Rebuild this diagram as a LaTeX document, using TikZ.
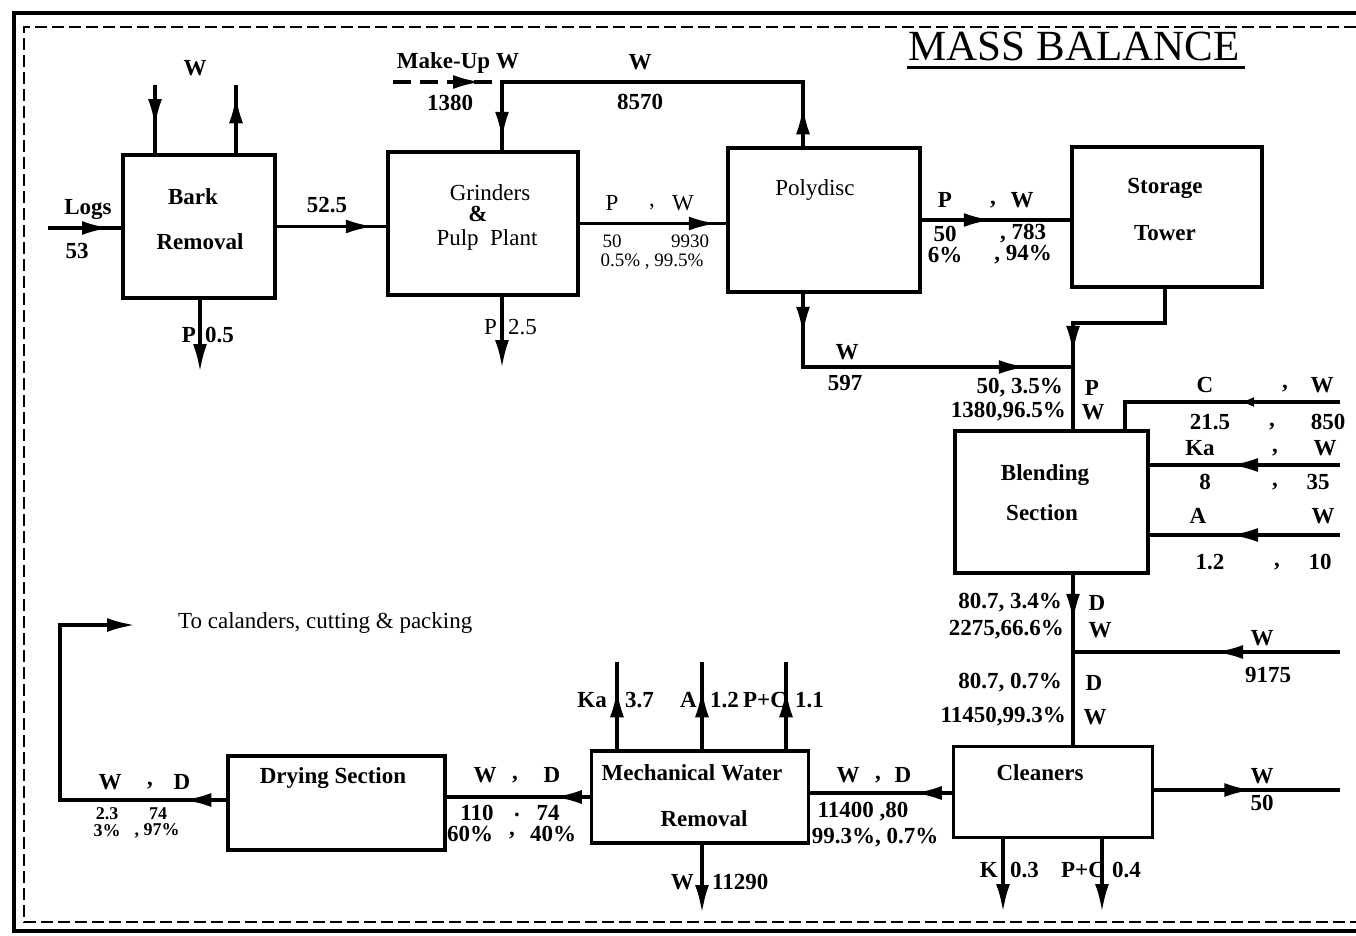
\documentclass[tikz,border=0pt]{standalone}
\usepackage{fontspec}
\setmainfont{Liberation Serif}
\usetikzlibrary{arrows.meta,decorations.markings}
\tikzset{
  hd/.tip={Latex[length=28pt,width=14pt]},
  sm/.tip={Latex[length=14pt,width=10pt]},
  lb/.style={font=\fontsize{23}{25}\selectfont\bfseries, inner sep=0pt},
  lr/.style={font=\fontsize{23}{25}\selectfont, inner sep=0pt},
  lq/.style={font=\fontsize{19}{20}\selectfont, inner sep=0pt},
  ls/.style={font=\fontsize{18}{19}\selectfont\bfseries, inner sep=0pt},
  proc/.style={draw, line width=3.5pt, inner sep=0pt},
  flow/.style={line width=3.5pt},
  fa/.style={postaction={decorate,decoration={markings,mark=at position #1 with {\arrow{hd}}}}},
  sa/.style={postaction={decorate,decoration={markings,mark=at position #1 with {\arrow{sm}}}}},
}
\begin{document}
\begin{tikzpicture}[x=1pt,y=-1pt]
\useasboundingbox (0,0) rectangle (1356,935);
% frame
\draw[line width=4pt] (1356,13) -- (14,13) -- (14,931) -- (1356,931);
\draw[line width=1.5pt, dash pattern=on 12pt off 5pt] (1356,27) -- (24,27) -- (24,922) -- (1356,922);
% title
\node[font=\fontsize{43}{46}\selectfont, inner sep=0pt] (title) at (1074,46) {MASS BALANCE};
\draw[line width=3pt] (907,67) -- (1245,67);

% process boxes
\node[proc, minimum width=152pt, minimum height=143pt] (bark) at (199,226.5) {};
\node[proc, minimum width=190pt, minimum height=143pt] (grind) at (483,223.5) {};
\node[proc, minimum width=192pt, minimum height=144pt] (poly) at (824,220) {};
\node[proc, minimum width=190pt, minimum height=140pt] (stor) at (1167,217) {};
\node[proc, minimum width=193pt, minimum height=142pt] (blend) at (1051.5,502) {};
\node[proc, minimum width=199pt, minimum height=91pt] (clean) at (1053,792) {};
\node[proc, minimum width=217pt, minimum height=92pt] (mwr) at (700,797) {};
\node[proc, minimum width=217pt, minimum height=94pt] (dry) at (336.5,803) {};

% box texts
\node[lb] (t1) at (193,197) {Bark};
\node[lb] (t2) at (200,242) {Removal};
\node[lr] (t3) at (490,193) {Grinders};
\node[lb] (t4) at (478,214) {\&};
\node[lr] (t5) at (487,240) {Pulp\ \ Plant};
\node[lr] (t6) at (815,190) {Polydisc};
\node[lb] (t7) at (1165,188) {Storage};
\node[lb] (t8) at (1165,233) {Tower};
\node[lb] (t9) at (1045,475) {Blending};
\node[lb] (t10) at (1042,513) {Section};
\node[lb] (t11) at (1040,773) {Cleaners};
\node[lb] (t12) at (692,773) {Mechanical Water};
\node[lb] (t13) at (704,819) {Removal};
\node[lb] (t14) at (333,778) {Drying Section};

% free ends
\coordinate (bwin) at (155,85);
\coordinate (bwout) at (236,85);
\coordinate (logs) at (48,228);
\coordinate (bp) at (200,372);
\coordinate (mu) at (393,82);
\coordinate (j1) at (502,82);
\coordinate (j2) at (803,82);
\coordinate (gp) at (502,368);
\coordinate (c597a) at (803,367);
\coordinate (c597b) at (1073,367);
\coordinate (st1) at (1165,323);
\coordinate (st2) at (1073,323);
\coordinate (cC1) at (1125,402);
\coordinate (cC2) at (1340,402);
\coordinate (cKa) at (1340,465);
\coordinate (cA) at (1340,535);
\coordinate (j9175) at (1073,652);
\coordinate (c9175) at (1340,652);
\coordinate (c50) at (1340,790);
\coordinate (cK) at (1003,912);
\coordinate (cPC) at (1102,912);
\coordinate (mKa) at (617,662);
\coordinate (mA) at (702,662);
\coordinate (mPC) at (786,662);
\coordinate (mW) at (702,913);
\coordinate (mwl) at (0,793);
\coordinate (d1) at (60,800);
\coordinate (d2) at (60,625);
\coordinate (d3) at (135,625);

% connectors
\draw[flow, fa=42pt] (bwin) -- (bwin |- bark.north);
\draw[flow, fa=58pt] (bwout |- bark.north) -- (bwout);
\draw[flow, fa=62pt] (logs) -- (logs -| bark.west);
\draw[flow, fa=97pt] (bark.east) -- (bark.east -| grind.west);
\draw[flow, -{hd}] (bp |- bark.south) -- (bp);
\draw[flow, dash pattern=on 18pt off 9pt, fa=88pt] (mu) -- (j1);
\draw[flow, fa=40pt, fa=423pt] (j2 |- poly.north) -- (j2) -- (j1) -- (j1 |- grind.north);
\draw[flow, fa=137pt] (grind.east) -- (grind.east -| poly.west);
\draw[flow, -{hd}] (gp |- grind.south) -- (gp);
\draw[flow, fa=70pt] (poly.east) -- (poly.east -| stor.west);
\draw[flow, fa=41pt, fa=297pt] (c597a |- poly.south) -- (c597a) -- (c597b);
\draw[flow, fa=157pt] (st1 |- stor.south) -- (st1) -- (st2) -- (st2 |- blend.north);
\draw[flow, sa=100pt] (cC2) -- (cC1) -- (cC1 |- blend.north);
\draw[flow, fa=110pt] (cKa) -- (cKa -| blend.east);
\draw[flow, fa=110pt] (cA) -- (cA -| blend.east);
\draw[flow, fa=47pt] (j9175 |- blend.south) -- (j9175 |- clean.north);
\draw[flow, fa=125pt] (c9175) -- (j9175);
\draw[flow, fa=98pt] (clean.east |- c50) -- (c50);
\draw[flow, -{hd}] (cK |- clean.south) -- (cK);
\draw[flow, -{hd}] (cPC |- clean.south) -- (cPC);
\draw[flow, fa=38pt] (clean.west |- mwl) -- (mwr.east |- mwl);
\draw[flow, fa=60pt] (mKa |- mwr.north) -- (mKa);
\draw[flow, fa=60pt] (mA |- mwr.north) -- (mA);
\draw[flow, fa=60pt] (mPC |- mwr.north) -- (mPC);
\draw[flow, -{hd}] (mW |- mwr.south) -- (mW);
\draw[flow, fa=36pt] (mwr.west) -- (mwr.west -| dry.east);
\draw[flow, fa=43pt, -{hd}] (dry.west |- d1) -- (d1) -- (d2) -- (d3);

% stream labels
\node[lb] (a1) at (195,68) {W};
\node[lb] (a2) at (88,210) {Logs};
\node[lb] (a3) at (77,251) {53};
\node[lb] (a4) at (327,205) {52.5};
\node[lb, anchor=east] (a5) at (196,335) {P};
\node[lb, anchor=west] (a6) at (205,335) {0.5};
\node[lb] (a7) at (458,63) {Make-Up W};
\node[lb] (a8) at (450,103) {1380};
\node[lb] (a9) at (640,62) {W};
\node[lb] (a10) at (640,102) {8570};
\node[lr] (a11) at (612,203) {P};
\node[lr] (a12) at (652,207) {,};
\node[lr] (a13) at (683,203) {W};
\node[lq] (a14) at (612,241) {50};
\node[lq] (a15) at (690,241) {9930};
\node[lq] (a16) at (652,262) {0.5\% , 99.5\%};
\node[lr, anchor=east] (a17) at (497,327) {P};
\node[lr, anchor=west] (a18) at (508,327) {2.5};
\node[lb] (a19) at (945,200) {P};
\node[lb] (a20) at (993,205) {,};
\node[lb] (a21) at (1022,200) {W};
\node[lb] (a22) at (945,234) {50};
\node[lb] (a23) at (1023,234) {, 783};
\node[lb] (a24) at (945,255) {6\%};
\node[lb] (a25) at (1023,255) {, 94\%};
\node[lb] (a26) at (847,352) {W};
\node[lb] (a27) at (845,383) {597};
\node[lb, anchor=east] (a28) at (1063,388) {50, 3.5\%};
\node[lb] (a29) at (1092,388) {P};
\node[lb, anchor=east] (a30) at (1066,412) {1380,96.5\%};
\node[lb] (a31) at (1093,412) {W};
\node[lb] (a32) at (1205,385) {C};
\node[lb] (a33) at (1285,389) {,};
\node[lb] (a34) at (1322,385) {W};
\node[lb] (a35) at (1210,422) {21.5};
\node[lb] (a36) at (1272,427) {,};
\node[lb] (a37) at (1328,422) {850};
\node[lb] (a38) at (1200,448) {Ka};
\node[lb] (a39) at (1275,453) {,};
\node[lb] (a40) at (1325,448) {W};
\node[lb] (a41) at (1205,482) {8};
\node[lb] (a42) at (1275,487) {,};
\node[lb] (a43) at (1318,482) {35};
\node[lb] (a44) at (1198,516) {A};
\node[lb] (a45) at (1323,516) {W};
\node[lb] (a46) at (1210,562) {1.2};
\node[lb] (a47) at (1277,567) {,};
\node[lb] (a48) at (1320,562) {10};
\node[lb, anchor=east] (a49) at (1062,603) {80.7, 3.4\%};
\node[lb] (a50) at (1097,603) {D};
\node[lb, anchor=east] (a51) at (1064,630) {2275,66.6\%};
\node[lb] (a52) at (1100,630) {W};
\node[lb] (a53) at (1262,638) {W};
\node[lb] (a54) at (1268,675) {9175};
\node[lb, anchor=east] (a55) at (1062,683) {80.7, 0.7\%};
\node[lb] (a56) at (1094,683) {D};
\node[lb, anchor=east] (a57) at (1066,717) {11450,99.3\%};
\node[lb] (a58) at (1095,717) {W};
\node[lb] (a59) at (1262,776) {W};
\node[lb] (a60) at (1262,803) {50};
\node[lb, anchor=east] (a61) at (998,870) {K};
\node[lb, anchor=west] (a62) at (1010,870) {0.3};
\node[lb] (a63) at (1083,870) {P+C};
\node[lb, anchor=west] (a64) at (1112,870) {0.4};
\node[lb] (a65) at (848,775) {W};
\node[lb] (a66) at (878,780) {,};
\node[lb] (a67) at (903,775) {D};
\node[lb] (a68) at (863,812) {11400 ,80};
\node[lb] (a69) at (875,838) {99.3\%, 0.7\%};
\node[lb, anchor=east] (a70) at (607,700) {Ka};
\node[lb, anchor=west] (a71) at (625,700) {3.7};
\node[lb, anchor=east] (a72) at (697,700) {A};
\node[lb, anchor=west] (a73) at (710,700) {1.2};
\node[lb] (a74) at (765,700) {P+C};
\node[lb, anchor=west] (a75) at (795,700) {1.1};
\node[lb, anchor=east] (a76) at (694,882) {W};
\node[lb, anchor=west] (a77) at (712,882) {11290};
\node[lb] (a78) at (485,775) {W};
\node[lb] (a79) at (515,780) {,};
\node[lb] (a80) at (552,775) {D};
\node[lb] (a81) at (477,813) {110};
\node[lb] (a82) at (517,815) {.};
\node[lb] (a83) at (548,813) {74};
\node[lb] (a84) at (470,834) {60\%};
\node[lb] (a85) at (512,836) {,};
\node[lb] (a86) at (553,834) {40\%};
\node[lb] (a87) at (110,782) {W};
\node[lb] (a88) at (150,786) {,};
\node[lb] (a89) at (182,782) {D};
\node[ls] (a90) at (107,814) {2.3};
\node[ls] (a91) at (158,814) {74};
\node[ls] (a92) at (107,831) {3\%};
\node[ls] (a93) at (157,831) {, 97\%};
\node[lr, anchor=west] (a94) at (178,623) {To calanders, cutting \& packing};
\end{tikzpicture}
\end{document}
